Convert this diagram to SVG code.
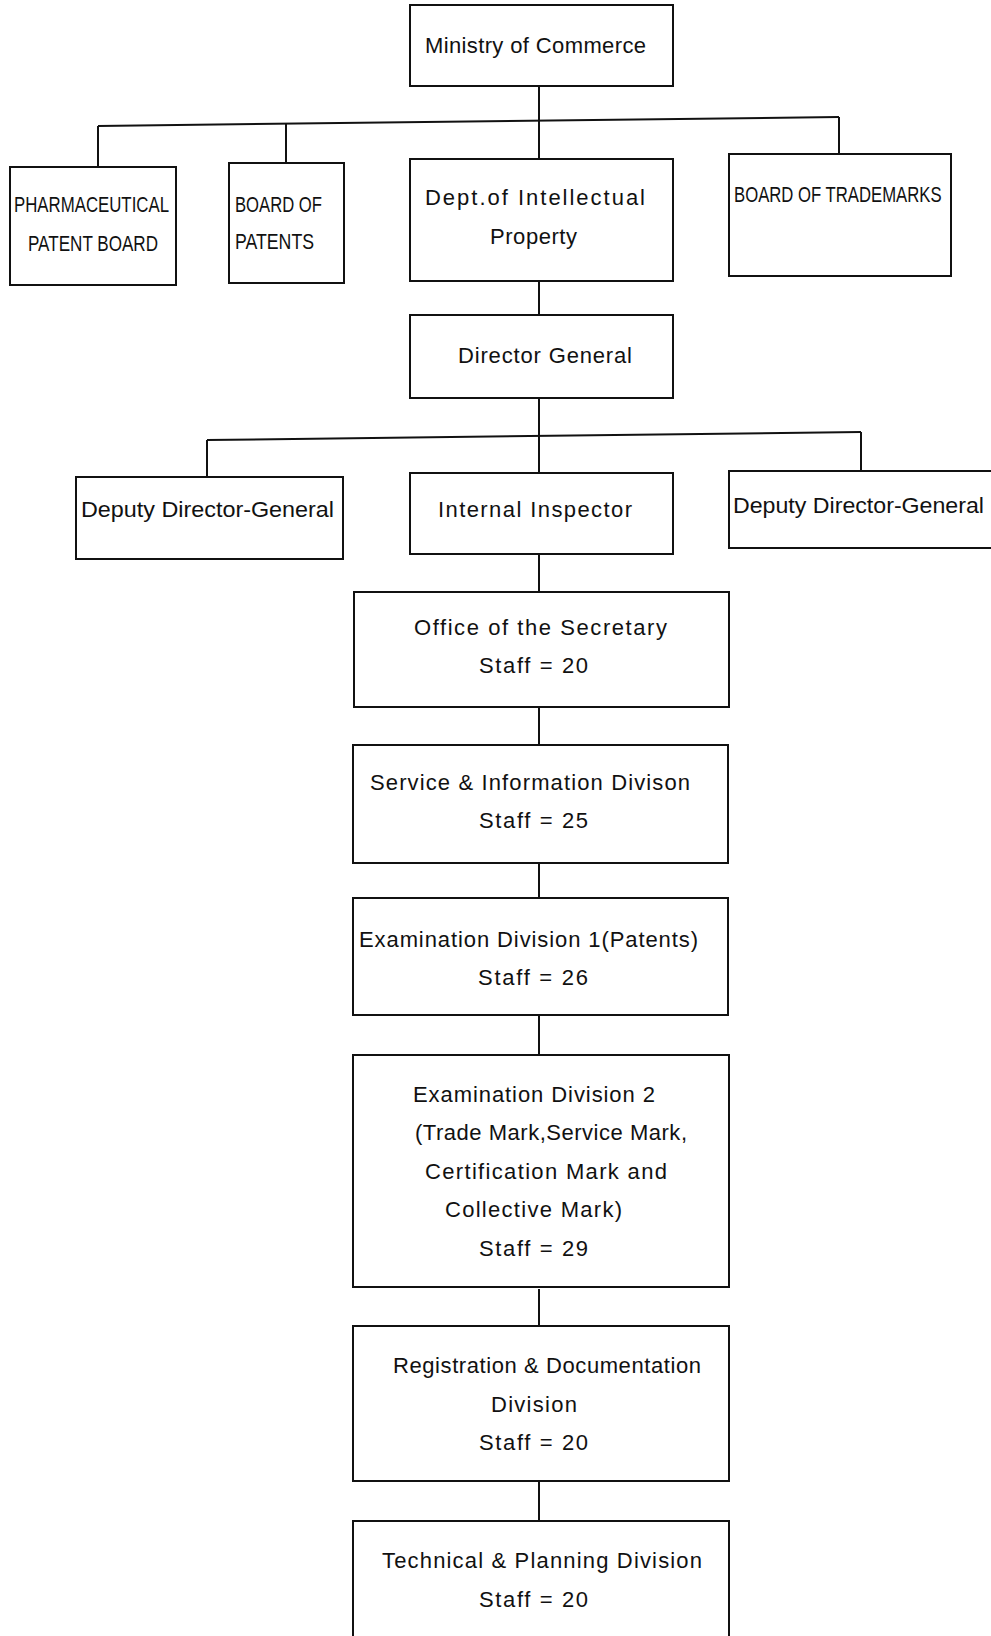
<svg xmlns="http://www.w3.org/2000/svg" width="991" height="1636" viewBox="0 0 991 1636">
<style>
rect.box{fill:#fff;stroke:#111;stroke-width:2}
.conn path{fill:none;stroke:#111;stroke-width:2}
text{font-family:"Liberation Sans",Arial,sans-serif;font-size:22px;fill:#111}
</style>
<rect width="991" height="1636" fill="#fff"/>
<g class="conn" id="connectors">
<path d="M539,86 V159"/>
<path d="M98,126 L839,117"/>
<path d="M98,126 V167"/>
<path d="M286,124 V163"/>
<path d="M839,117 V154"/>
<path d="M539,281 V315"/>
<path d="M539,398 V473"/>
<path d="M207,440 L861,432"/>
<path d="M207,440 V477"/>
<path d="M861,432 V472"/>
<path d="M539,554 V592"/>
<path d="M539,707 V745"/>
<path d="M539,863 V898"/>
<path d="M539,1015 V1055"/>
<path d="M539,1289 V1326"/>
<path d="M539,1481 V1521"/>
</g>
<g id="ministry"><rect class="box" x="410" y="5" width="263" height="81"/>
<text x="425" y="53" textLength="221" lengthAdjust="spacing">Ministry of Commerce</text></g>
<g id="pharma"><rect class="box" x="10" y="167" width="166" height="118"/>
<text x="14" y="212" textLength="155" lengthAdjust="spacingAndGlyphs">PHARMACEUTICAL</text>
<text x="28" y="251" textLength="130" lengthAdjust="spacingAndGlyphs">PATENT BOARD</text></g>
<g id="patents"><rect class="box" x="229" y="163" width="115" height="120"/>
<text x="235" y="212" textLength="87" lengthAdjust="spacingAndGlyphs">BOARD OF</text>
<text x="235" y="249" textLength="79" lengthAdjust="spacingAndGlyphs">PATENTS</text></g>
<g id="dip"><rect class="box" x="410" y="159" width="263" height="122"/>
<text x="425" y="205" textLength="220" lengthAdjust="spacing">Dept.of Intellectual</text>
<text x="490" y="244" textLength="87" lengthAdjust="spacing">Property</text></g>
<g id="trademarks"><rect class="box" x="729" y="154" width="222" height="122"/>
<text transform="translate(734,202) scale(0.76,1)" x="0" y="0">BOARD OF TRADEMARKS</text></g>
<g id="dg"><rect class="box" x="410" y="315" width="263" height="83"/>
<text x="458" y="363" textLength="174" lengthAdjust="spacing">Director General</text></g>
<g id="ddg1"><rect class="box" x="76" y="477" width="267" height="82"/>
<text x="81" y="517" textLength="253" lengthAdjust="spacingAndGlyphs">Deputy Director-General</text></g>
<g id="inspector"><rect class="box" x="410" y="473" width="263" height="81"/>
<text x="438" y="517" textLength="194" lengthAdjust="spacing">Internal Inspector</text></g>
<g id="ddg2"><rect class="box" x="729" y="471" width="280" height="77"/>
<text x="733" y="513" textLength="251" lengthAdjust="spacingAndGlyphs">Deputy Director-General</text></g>
<g id="secretary"><rect class="box" x="354" y="592" width="375" height="115"/>
<text x="414" y="635" textLength="253" lengthAdjust="spacing">Office of the Secretary</text>
<text x="479" y="673" textLength="109" lengthAdjust="spacing">Staff = 20</text></g>
<g id="service"><rect class="box" x="353" y="745" width="375" height="118"/>
<text x="370" y="790" textLength="320" lengthAdjust="spacing">Service &amp; Information Divison</text>
<text x="479" y="828" textLength="109" lengthAdjust="spacing">Staff = 25</text></g>
<g id="exam1"><rect class="box" x="353" y="898" width="375" height="117"/>
<text x="359" y="947" textLength="339" lengthAdjust="spacing">Examination Division 1(Patents)</text>
<text x="478" y="985" textLength="110" lengthAdjust="spacing">Staff = 26</text></g>
<g id="exam2"><rect class="box" x="353" y="1055" width="376" height="232"/>
<text x="413" y="1102" textLength="242" lengthAdjust="spacing">Examination Division 2</text>
<text x="415" y="1140" textLength="272" lengthAdjust="spacing">(Trade Mark,Service Mark,</text>
<text x="425" y="1179" textLength="242" lengthAdjust="spacing">Certification Mark and</text>
<text x="445" y="1217" textLength="177" lengthAdjust="spacing">Collective Mark)</text>
<text x="479" y="1256" textLength="109" lengthAdjust="spacing">Staff = 29</text></g>
<g id="registration"><rect class="box" x="353" y="1326" width="376" height="155"/>
<text x="393" y="1373" textLength="308" lengthAdjust="spacing">Registration &amp; Documentation</text>
<text x="491" y="1412" textLength="86" lengthAdjust="spacing">Division</text>
<text x="479" y="1450" textLength="109" lengthAdjust="spacing">Staff = 20</text></g>
<g id="technical"><rect class="box" x="353" y="1521" width="376" height="140"/>
<text x="382" y="1568" textLength="320" lengthAdjust="spacing">Technical &amp; Planning Division</text>
<text x="479" y="1607" textLength="109" lengthAdjust="spacing">Staff = 20</text></g>
</svg>
